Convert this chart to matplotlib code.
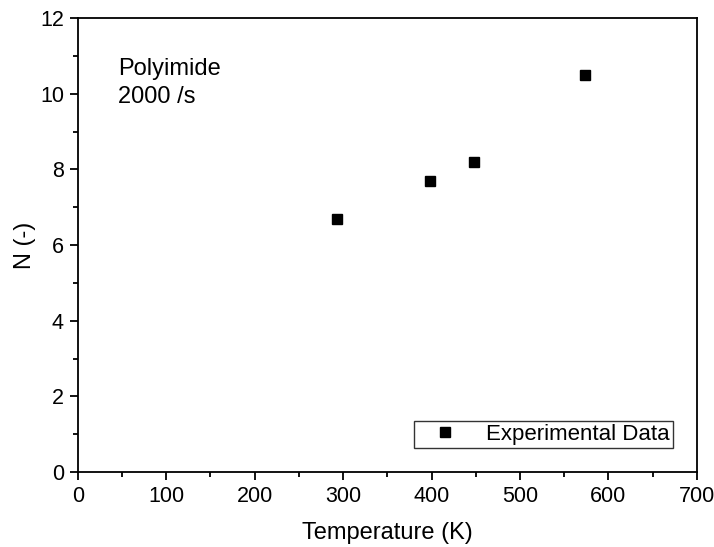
import matplotlib
matplotlib.use("Agg")
import matplotlib.pyplot as plt
from matplotlib.ticker import MultipleLocator

plt.rcParams["font.family"] = ["Liberation Sans", "DejaVu Sans"]

# 실험 데이터
temperature = [293, 398, 448, 573]
n_value = [6.7, 7.7, 8.2, 10.5]

fig = plt.figure(figsize=(7.14, 5.47), dpi=100)
ax = fig.add_axes([0.109, 0.137, 0.867, 0.830])

ax.plot(temperature, n_value, linestyle="none", marker="s", markersize=7.5,
        color="black", label="Experimental Data")

ax.set_xlim(0, 700)
ax.set_ylim(0, 12)
ax.xaxis.set_major_locator(MultipleLocator(100))
ax.xaxis.set_minor_locator(MultipleLocator(50))
ax.yaxis.set_major_locator(MultipleLocator(2))
ax.yaxis.set_minor_locator(MultipleLocator(1))
ax.tick_params(which="major", direction="out", length=6, width=1.3,
               labelsize=15.5, pad=4)
ax.tick_params(which="minor", direction="out", length=3.5, width=1.3)
for s in ax.spines.values():
    s.set_linewidth(1.3)

ax.set_xlabel("Temperature (K)", fontsize=17, labelpad=11)
ax.set_ylabel("N (-)", fontsize=17, labelpad=3)

ax.text(0.065, 0.912, "Polyimide\n2000 /s", transform=ax.transAxes,
        fontsize=17, va="top", ha="left", linespacing=1.35)

leg = ax.legend(loc="lower right", bbox_to_anchor=(0.962, 0.052), fontsize=16,
                frameon=True, fancybox=False, edgecolor="black",
                handletextpad=0.6, borderpad=0.15, handlelength=2.5,
                borderaxespad=0.0)
leg.get_frame().set_linewidth(1.0)

fig.savefig("out.png", dpi=100)
